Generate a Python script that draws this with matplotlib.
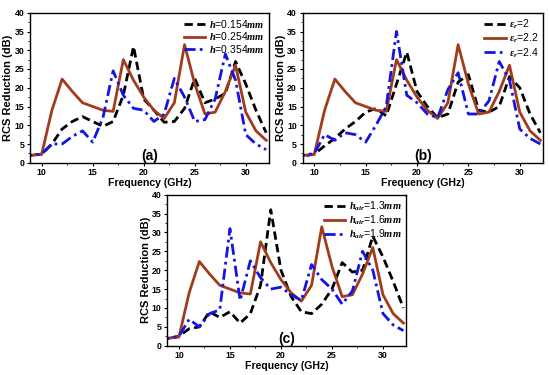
import numpy as np
import matplotlib.pyplot as plt
from matplotlib.ticker import MultipleLocator

plt.rcParams['font.family'] = ['Liberation Sans', 'DejaVu Sans']
plt.rcParams['mathtext.fontset'] = 'custom'
plt.rcParams['mathtext.it'] = 'Liberation Serif:italic:bold'
plt.rcParams['mathtext.rm'] = 'Liberation Serif:bold'
plt.rcParams['mathtext.bf'] = 'Liberation Serif:bold'

# frequency points (GHz)
freq = np.arange(8, 33)

# common curve (same design in all three panels)
brown = [2, 2, 2.3, 14, 22.3, 19, 16, 15, 14, 13.7, 27.5, 22, 17.5, 14, 11.8,
         16, 31.5, 21, 13, 13.5, 19, 26, 13.5, 8.5, 6]

# panel (a): substrate thickness h
a_black = [2, 2, 2.3, 5, 9, 11, 12.3, 11, 9.7, 11, 18, 31, 17, 14, 10.8,
           11, 14.5, 22.5, 16, 17, 18.5, 27, 21, 14, 8]
a_blue = [2, 2, 2.3, 5, 5, 7, 8.5, 5.5, 12, 24.5, 18, 14.5, 14, 11, 13,
          22.5, 17.5, 11, 11.5, 17, 29, 22, 7.5, 5, 3.5]

# panel (b): permittivity
b_black = [2, 1.8, 2.3, 4.5, 6.5, 9, 11, 13.5, 14.5, 12.5, 21, 29.5, 19, 15, 12,
           13, 21.5, 23.5, 14, 13.5, 15, 23, 20, 13, 8]
b_blue = [2, 2, 2.5, 7.5, 6, 8, 7.5, 5.5, 10, 15, 35, 18, 16, 13, 12,
          19.5, 24, 13, 13, 16.5, 27, 22, 9, 6.5, 5]

# panel (c): air gap
c_black = [2, 2, 2.5, 4.5, 5, 9, 7.5, 9, 6, 8.5, 16, 36, 20, 13, 9,
           8.5, 11, 15, 22, 19.5, 20, 29, 23.5, 17, 10]
c_blue = [2, 2, 2.5, 7, 5, 8.5, 9.5, 31, 12, 22.5, 18, 15, 15.5, 13.5, 12,
          21.5, 17.5, 15, 11, 14.5, 25, 20, 8.5, 5.5, 4]

labels_a = [r'$h$=0.154$mm$', r'$h$=0.254$mm$', r'$h$=0.354$mm$']
labels_b = [r'$\varepsilon_r$=2', r'$\varepsilon_r$=2.2', r'$\varepsilon_r$=2.4']
labels_c = [r'$h_{air}$=1.3$mm$', r'$h_{air}$=1.6$mm$', r'$h_{air}$=1.9$mm$']

BROWN = '#A03C1C'
BLUE = '#1414E6'

fig = plt.figure(figsize=(5.5, 3.75), dpi=100)
ax_a = fig.add_axes([0.0545, 0.566, 0.435, 0.400])
ax_b = fig.add_axes([0.550, 0.566, 0.438, 0.400])
ax_c = fig.add_axes([0.304, 0.078, 0.435, 0.403])

panels = [
    (ax_a, a_black, a_blue, labels_a, '(a)'),
    (ax_b, b_black, b_blue, labels_b, '(b)'),
    (ax_c, c_black, c_blue, labels_c, '(c)'),
]

for ax, blk, blu, labs, tag in panels:
    ax.plot(freq, blk, color='black', lw=2.0, ls=(0, (3, 1.6)), label=labs[0])
    ax.plot(freq, brown, color=BROWN, lw=2.0, label=labs[1])
    ax.plot(freq, blu, color=BLUE, lw=2.0, ls=(0, (4, 1.5, 1, 1.5)), label=labs[2])
    ax.set_xlim(8.85, 32.3)
    ax.set_ylim(0, 40)
    ax.xaxis.set_major_locator(MultipleLocator(5))
    ax.xaxis.set_minor_locator(MultipleLocator(2.5))
    ax.yaxis.set_major_locator(MultipleLocator(5))
    ax.yaxis.set_minor_locator(MultipleLocator(2.5))
    ax.tick_params(which='major', length=2.5, width=0.8, labelsize=6.3, pad=1.5)
    ax.tick_params(which='minor', length=1.3, width=0.6)
    for lab in ax.get_xticklabels() + ax.get_yticklabels():
        lab.set_fontweight('bold')
    for sp in ax.spines.values():
        sp.set_linewidth(1.0)
    ax.set_xlabel('Frequency (GHz)', fontsize=7.6, fontweight='bold', labelpad=0.5)
    ax.set_ylabel('RCS Reduction (dB)', fontsize=8, fontweight='bold', labelpad=1)
    ax.text(0.5, 0.0, tag, transform=ax.transAxes, ha='center', va='bottom',
            fontsize=10, fontweight='bold')
    leg = ax.legend(loc='upper right', frameon=False, fontsize=7.5, handlelength=2.1,
                    handletextpad=0.3, labelspacing=0.05, borderaxespad=0.3,
                    borderpad=0.2)

fig.savefig('out.png', dpi=100)
